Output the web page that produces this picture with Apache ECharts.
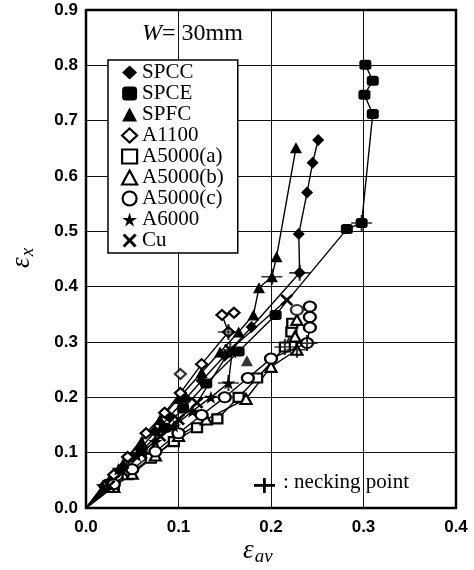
<!DOCTYPE html>
<html>
<head>
<meta charset="utf-8">
<title>εx vs εav, W = 30mm</title>
<script src="https://cdn.jsdelivr.net/npm/echarts@6/dist/echarts.min.js"></script>
<style>
  html, body { margin: 0; padding: 0; background: #fff; }
  #chart { width: 474px; height: 570px; }
</style>
</head>
<body>
<div id="chart"></div>
<script>
// Strain paths (εav, εx) for each material, starting at the origin.
const spcc   = [[0,0],[0.02,0.038],[0.035,0.065],[0.05,0.092],[0.06,0.11],[0.075,0.138],[0.09,0.165],[0.108,0.198],[0.125,0.23],[0.15,0.275],[0.179,0.327],[0.231,0.425],[0.230,0.495],[0.239,0.570],[0.245,0.624],[0.251,0.665]];
const spce   = [[0,0],[0.025,0.044],[0.04,0.07],[0.06,0.103],[0.085,0.145],[0.105,0.18],[0.13,0.225],[0.165,0.283],[0.205,0.349],[0.282,0.504],[0.298,0.515],[0.310,0.712],[0.301,0.747],[0.310,0.772],[0.302,0.801]];
const spfc   = [[0,0],[0.025,0.05],[0.04,0.08],[0.06,0.12],[0.08,0.16],[0.1,0.198],[0.125,0.245],[0.145,0.282],[0.165,0.318],[0.181,0.349],[0.187,0.398],[0.201,0.418],[0.206,0.454],[0.227,0.651]];
const a1100  = [[0,0],[0.02,0.04],[0.03,0.06],[0.045,0.092],[0.065,0.135],[0.085,0.172],[0.102,0.208],[0.125,0.26],[0.154,0.318],[0.147,0.349],[0.160,0.353]];
const a5000a = [[0,0],[0.03,0.04],[0.045,0.06],[0.07,0.09],[0.095,0.12],[0.12,0.145],[0.142,0.161],[0.165,0.2],[0.185,0.235],[0.215,0.291],[0.222,0.318],[0.223,0.334]];
const a5000b = [[0,0],[0.03,0.038],[0.05,0.062],[0.075,0.095],[0.1,0.13],[0.13,0.16],[0.173,0.197],[0.2,0.255],[0.228,0.286],[0.226,0.31],[0.228,0.34]];
const a5000c = [[0,0],[0.03,0.043],[0.05,0.07],[0.075,0.102],[0.1,0.135],[0.125,0.168],[0.15,0.2],[0.175,0.235],[0.2,0.27],[0.239,0.298],[0.242,0.326],[0.242,0.345],[0.242,0.364]];
const a6000  = [[0,0],[0.018,0.04],[0.035,0.07],[0.055,0.095],[0.075,0.12],[0.095,0.148],[0.115,0.175],[0.135,0.2],[0.154,0.226],[0.158,0.282]];
const cu     = [[0,0],[0.025,0.04],[0.04,0.065],[0.06,0.098],[0.08,0.13],[0.1,0.16],[0.12,0.19],[0.156,0.286],[0.217,0.376]];

// Stray measurements plotted without a connecting line
const a1100Extra  = [[0.102,0.242]];
const spfcExtra   = [[0.174,0.266]];
const a5000cExtra = [[0.228,0.358]];

// Necking points
const necking = [[0.298,0.515],[0.231,0.425],[0.201,0.418],[0.154,0.318],[0.215,0.291],[0.228,0.286],[0.239,0.298],[0.154,0.226],[0.156,0.286]];

const xTicks = [0, 0.1, 0.2, 0.3, 0.4];
const yTicks = [0, 0.1, 0.2, 0.3, 0.4, 0.5, 0.6, 0.7, 0.8, 0.9];

const STAR = 'path://M50,0 L61,35 L98,35 L68,57 L79,91 L50,70 L21,91 L32,57 L2,35 L39,35 Z';
const CROSS = 'path://M0,1.5 L1.5,0 L5,3.5 L8.5,0 L10,1.5 L6.5,5 L10,8.5 L8.5,10 L5,6.5 L1.5,10 L0,8.5 L3.5,5 Z';
const PLUS = 'path://M9,0 H11 V9 H20 V11 H11 V20 H9 V11 H0 V9 H9 Z';

const filled = { color: '#000', borderColor: '#000', borderWidth: 0 };
const hollow = { color: '#fff', borderColor: '#000', borderWidth: 2.2 };

const materials = [
  { name: 'SPCC',     data: spcc,   symbol: 'diamond',   size: [12, 12], style: filled },
  { name: 'SPCE',     data: spce,   symbol: 'roundRect', size: [12, 10], style: filled },
  { name: 'SPFC',     data: spfc,   symbol: 'triangle',  size: [12, 11], style: filled },
  { name: 'A1100',    data: a1100,  symbol: 'diamond',   size: [11, 10], style: hollow },
  { name: 'A5000(a)', data: a5000a, symbol: 'rect',      size: [10, 9],  style: hollow },
  { name: 'A5000(b)', data: a5000b, symbol: 'triangle',  size: [11, 10], style: hollow },
  { name: 'A5000(c)', data: a5000c, symbol: 'circle',    size: [12, 10], style: hollow },
  { name: 'A6000',    data: a6000,  symbol: STAR,        size: [14, 13], style: filled },
  { name: 'Cu',       data: cu,     symbol: CROSS,       size: [13, 12], style: filled }
];

const extras = [
  { data: a1100Extra,  from: 'A1100' },
  { data: spfcExtra,   from: 'SPFC' },
  { data: a5000cExtra, from: 'A5000(c)' }
];

const series = materials.map(m => ({
  name: m.name,
  type: 'line',
  data: m.data.map((p, i) => i === 0 ? { value: p, symbol: 'none' } : p),
  symbol: m.symbol,
  symbolSize: m.size,
  showAllSymbol: true,
  itemStyle: m.style,
  lineStyle: { color: '#000', width: 1.4 },
  emphasis: { disabled: true },
  animation: false,
  z: 3
}));

extras.forEach(e => {
  const m = materials.find(k => k.name === e.from);
  series.push({
    type: 'scatter',
    data: e.data,
    symbol: m.symbol,
    symbolSize: m.size,
    itemStyle: m.style,
    animation: false,
    z: 3
  });
});

series.push({
  type: 'scatter',
  data: necking,
  symbol: PLUS,
  symbolSize: [21, 16],
  itemStyle: { color: '#000' },
  animation: false,
  z: 4
});

const serif = "'Liberation Serif', 'DejaVu Serif', serif";
const sans = "'Liberation Sans', Arial, sans-serif";

const chart = echarts.init(document.getElementById('chart'), null, { renderer: 'canvas' });
chart.setOption({
  backgroundColor: '#fff',
  animation: false,
  grid: {
    left: 86, top: 10, right: 18, bottom: 62,
    outerBoundsMode: 'none',
    show: true, borderColor: '#000', borderWidth: 2.5, backgroundColor: 'transparent', z: 5
  },
  xAxis: {
    type: 'value', min: xTicks[0], max: xTicks[xTicks.length - 1], interval: 0.1,
    axisLine: { show: false }, axisTick: { show: false },
    splitLine: { show: true, lineStyle: { color: '#111', width: 1 } },
    axisLabel: { margin: 11, color: '#000', fontFamily: sans, fontSize: 17, fontWeight: 'bold', formatter: v => v.toFixed(1) }
  },
  yAxis: {
    type: 'value', min: yTicks[0], max: yTicks[yTicks.length - 1], interval: 0.1,
    axisLine: { show: false }, axisTick: { show: false },
    splitLine: { show: true, lineStyle: { color: '#111', width: 1 } },
    axisLabel: { margin: 8, color: '#000', fontFamily: sans, fontSize: 17, fontWeight: 'bold', formatter: v => v.toFixed(1) }
  },
  legend: {
    orient: 'vertical', left: 108, top: 60,
    padding: [2, 14, 2, 13],
    itemGap: 0, itemWidth: 15, itemHeight: 14,
    backgroundColor: '#fff', borderColor: '#000', borderWidth: 1.5,
    selectedMode: false,
    textStyle: { fontFamily: serif, fontSize: 21, color: '#000', lineHeight: 21, padding: [0, 0, 0, 0] },
    data: materials.map(m => ({ name: m.name, icon: m.symbol, itemStyle: m.style })),
    z: 10
  },
  graphic: [
    {
      type: 'text', left: 142, top: 22, z: 10,
      style: {
        text: '{i|W}{n|= 30mm}',
        rich: {
          i: { fontFamily: serif, fontStyle: 'italic', fontSize: 24, fill: '#000' },
          n: { fontFamily: serif, fontSize: 24, fill: '#000' }
        }
      }
    },
    {
      type: 'group', left: 254, top: 478, z: 10,
      children: [
        { type: 'rect', shape: { x: 0, y: 6, width: 21, height: 2.8 }, style: { fill: '#000' } },
        { type: 'rect', shape: { x: 9, y: 0, width: 2.8, height: 15 }, style: { fill: '#000' } }
      ]
    },
    {
      type: 'text', left: 283, top: 472, z: 10,
      style: { text: ': necking point', fontFamily: serif, fontSize: 21, fill: '#000' }
    },
    {
      type: 'text', left: 243, top: 537, z: 10,
      style: {
        text: '{e|ε}{s|av}',
        rich: {
          e: { fontFamily: serif, fontStyle: 'italic', fontSize: 27, fill: '#000' },
          s: { fontFamily: serif, fontStyle: 'italic', fontSize: 19, fill: '#000', padding: [12, 0, 0, 1] }
        }
      }
    },
    {
      type: 'text', x: 6, y: 268, rotation: Math.PI / 2, z: 10,
      style: {
        text: '{e|ε}{s|x}',
        rich: {
          e: { fontFamily: serif, fontStyle: 'italic', fontSize: 27, fill: '#000' },
          s: { fontFamily: serif, fontStyle: 'italic', fontSize: 19, fill: '#000', padding: [12, 0, 0, 1] }
        }
      }
    }
  ],
  series: series
});
</script>
</body>
</html>
